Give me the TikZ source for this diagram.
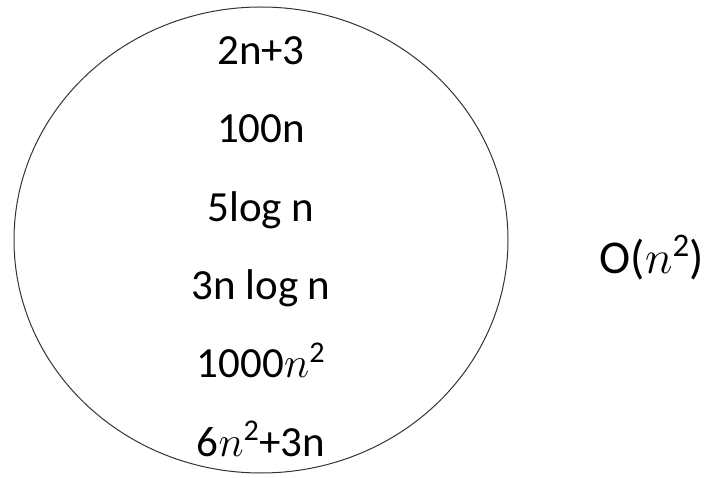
\documentclass[tikz,border=0pt]{standalone}
\usepackage{fix-cm}
\usepackage{amsmath}
\usepackage{fontspec}
\setmainfont{Carlito}
\usetikzlibrary{shapes.geometric}

\begin{document}
\begin{tikzpicture}[
  x=1pt, y=-1pt,
  set/.style={draw=black!80, line width=1pt, ellipse, minimum width=494pt, minimum height=466pt, inner sep=0pt},
  term/.style={anchor=base, inner sep=0pt, font=\fontsize{43}{51}\selectfont}
]
\useasboundingbox (0,0) rectangle (718,478);
\node[set] (bigo) at (261,240) {};

\node[term] (lin) at (261,65) {2n+3};
\node[term] (hund) at (261,143) {100n};
\node[term] (logn) at (261,222) {5log n};
\node[term] (nlogn) at (261,300) {3n log n};
\node[term] (quad) at (261,378) {1000$n^{\text{2}}$};
\node[term] (poly) at (261,456) {6$n^{\text{2}}$+3n};

\node[term, font=\fontsize{47}{55}\selectfont] (label) at (652,274) {O($n^{\text{2}}$)};
\end{tikzpicture}
\end{document}
